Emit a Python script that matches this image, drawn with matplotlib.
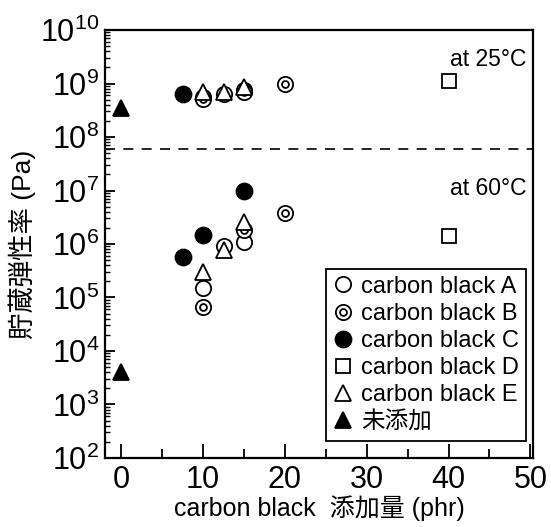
import matplotlib
matplotlib.use("Agg")
import matplotlib.pyplot as plt
import numpy as np
from matplotlib.path import Path
from matplotlib.ticker import LogLocator, MultipleLocator, NullFormatter

plt.rcParams['font.family'] = ['Liberation Sans', 'Noto Sans CJK JP']
plt.rcParams['mathtext.fontset'] = 'custom'
plt.rcParams['mathtext.rm'] = 'Liberation Sans'
plt.rcParams['mathtext.it'] = 'Liberation Sans'

# ---- data (phr, Pa) ----
a_x = [10, 12.5, 15, 10, 12.5, 15]
a_y = [5.6e8, 6.5e8, 7.6e8, 1.5e5, 9.0e5, 1.1e6]
b_x = [10, 15, 20, 10, 15, 20]
b_y = [5.1e8, 7.0e8, 9.8e8, 6.5e4, 1.8e6, 3.8e6]
c_x = [7.5, 7.5, 10, 15]
c_y = [6.3e8, 5.8e5, 1.5e6, 9.8e6]
d_x = [40, 40]
d_y = [1.1e9, 1.4e6]
e_x = [10, 12.5, 15, 10, 12.5, 15]
e_y = [6.8e8, 7.0e8, 8.6e8, 3.0e5, 7.8e5, 2.6e6]
n_x = [0, 0]
n_y = [3.5e8, 4.0e3]
divider = 6e7
labels = ['carbon black A', 'carbon black B', 'carbon black C',
          'carbon black D', 'carbon black E', '未添加']

fig = plt.figure(figsize=(5.51, 5.27), dpi=100)
ax = fig.add_axes([0.1906, 0.131, 0.7764, 0.812])

# double circle marker
outer = Path.unit_circle()
inner = Path(Path.unit_circle().vertices * 0.45, Path.unit_circle().codes)
dbl = Path.make_compound_path(outer, inner)

ms = 11
kw = dict(linestyle='none', markeredgecolor='black', markeredgewidth=1.3)
ax.plot(a_x, a_y, marker='o', markersize=ms, markerfacecolor='white', label=labels[0], **kw)
ax.plot(b_x, b_y, marker=dbl, markersize=ms, markerfacecolor='white', label=labels[1], **kw)
ax.plot(c_x, c_y, marker='o', markersize=11.5, markerfacecolor='black', label=labels[2], **kw)
ax.plot(d_x, d_y, marker='s', markersize=10, markerfacecolor='white', label=labels[3], **kw)
ax.plot(e_x, e_y, marker='^', markersize=11.5, markerfacecolor='white', label=labels[4], **kw)
ax.plot(n_x, n_y, marker='^', markersize=12, markerfacecolor='black', label=labels[5], **kw)

ax.axhline(divider, color='black', linewidth=1.2, linestyle=(0, (6, 5)))

ax.set_yscale('log')
ax.set_xlim(-2, 50.3)
ax.set_ylim(1e2, 1e10)

ax.xaxis.set_major_locator(MultipleLocator(10))
ax.xaxis.set_minor_locator(MultipleLocator(5))
ax.yaxis.set_major_locator(LogLocator(base=10, numticks=20))
ax.yaxis.set_minor_locator(LogLocator(base=10, subs=np.arange(2, 10), numticks=20))
ax.yaxis.set_minor_formatter(NullFormatter())

ax.tick_params(axis='both', which='both', direction='in', top=False, right=False)
ax.tick_params(axis='x', which='major', length=10, width=1.3, labelsize=22, pad=5)
ax.tick_params(axis='x', which='minor', length=6.5, width=1.3)
ax.tick_params(axis='y', which='major', length=7, width=1.3, labelsize=22, pad=4)
ax.tick_params(axis='y', which='minor', length=3.5, width=1.0)

for s in ax.spines.values():
    s.set_linewidth(1.6)

ax.set_xlabel('carbon black  添加量 (phr)', fontsize=18, labelpad=0)
ax.set_ylabel('貯蔵弾性率 (Pa)', fontsize=19, labelpad=3)

ax.text(0.985, 0.93, 'at 25°C', transform=ax.transAxes, ha='right', va='center', fontsize=16.5)
ax.text(0.985, 0.63, 'at 60°C', transform=ax.transAxes, ha='right', va='center', fontsize=16.5)

leg = ax.legend(loc='lower right', bbox_to_anchor=(0.985, 0.04), fontsize=17,
                frameon=True, fancybox=False, edgecolor='black', framealpha=1,
                handlelength=0.8, handletextpad=0.4, labelspacing=0.22,
                borderpad=0.3, borderaxespad=0)
leg.get_frame().set_linewidth(1.3)

fig.savefig('out.png', dpi=100)
